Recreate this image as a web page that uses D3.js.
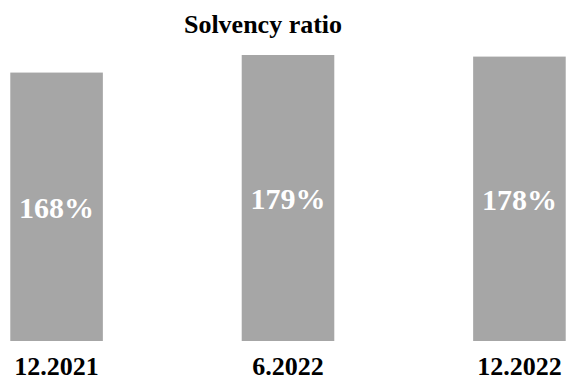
<!DOCTYPE html>
<html>
<head>
<meta charset="utf-8">
<script src="https://cdn.jsdelivr.net/npm/d3@7"></script>
<style>
  body { margin: 0; background: #fff; }
  text { font-family: "Liberation Serif", "Times New Roman", serif; font-weight: bold; }
</style>
</head>
<body>
<script>
// data
const periods = ["12.2021", "6.2022", "12.2022"]
const ratios = [168, 179, 178]
const title = "Solvency ratio"

let w = 566
let h = 380

let svg = d3.select("body")
    .append("svg")
    .attr("width", w)
    .attr("height", h)

let x = d3.scaleBand()
    .domain(periods)
    .range([-36, 612])
    .paddingInner(0.6)
    .paddingOuter(0.2)

// bars start at zero, bottom at 341
let y = d3.scaleLinear()
    .domain([0, 179])
    .range([341, 55])

let rows = periods.map((p, i) => ({ period: p, value: ratios[i] }))

svg.append("text")
    .attr("x", 263)
    .attr("y", 33)
    .attr("text-anchor", "middle")
    .style("font-size", "26px")
    .style("fill", "#000")
    .text(title)

svg.append("g").selectAll("rect")
    .data(rows)
    .enter()
    .append("rect")
        .attr("x", d => x(d.period))
        .attr("y", d => y(d.value))
        .attr("width", x.bandwidth())
        .attr("height", d => y(0) - y(d.value))
        .style("fill", "#a6a6a6")

// value labels in the middle of each bar
svg.append("g").selectAll("text")
    .data(rows)
    .enter()
    .append("text")
        .attr("x", d => x(d.period) + x.bandwidth() / 2)
        .attr("y", d => (y(d.value) + y(0)) / 2 + 11)
        .attr("text-anchor", "middle")
        .style("font-size", "30px")
        .style("fill", "#fff")
        .text(d => d.value + "%")

// category axis, no line or ticks
let axis = svg.append("g")
    .attr("transform", "translate(0," + 341 + ")")
    .call(d3.axisBottom(x).tickSize(0).tickPadding(34))
axis.select(".domain").remove()
axis.selectAll("text")
    .attr("dy", "0")
    .style("font-size", "26px")
    .style("font-family", "'Liberation Serif', 'Times New Roman', serif")
    .style("font-weight", "bold")
    .style("fill", "#000")
</script>
</body>
</html>
